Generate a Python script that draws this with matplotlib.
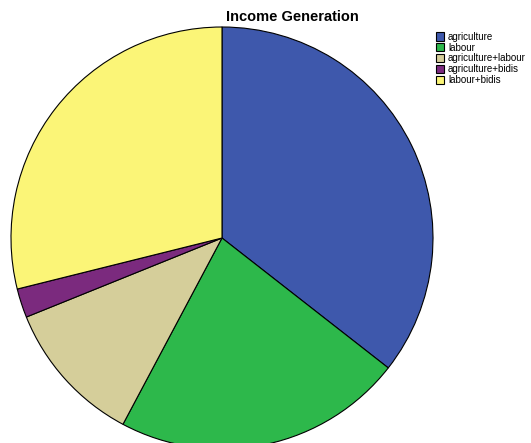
import matplotlib.pyplot as plt

plt.rcParams['font.family'] = ['Liberation Sans', 'DejaVu Sans']

# Income sources (counts)
categories = ['agriculture', 'labour', 'agriculture+labour', 'agriculture+bidis', 'labour+bidis']
counts = [16, 10, 5, 1, 13]
colors = ['#3E58AC', '#2DB84B', '#D5CE9A', '#7B2A7E', '#FBF577']

fig = plt.figure(figsize=(5.31, 4.43), dpi=100)
ax = fig.add_axes([0, 0, 1, 1])

wedges, _ = ax.pie(counts, colors=colors, startangle=90, counterclock=False,
                   radius=211, center=(0, 0),
                   wedgeprops=dict(edgecolor='black', linewidth=0.8))

# pixel-like data units, pie runs off the bottom edge
ax.set_xlim(-222, 309)
ax.set_ylim(-205, 238)
ax.set_aspect('auto')
ax.axis('off')

fig.text(292 / 531, 1 - 17 / 443, 'Income Generation', ha='center', va='center',
         fontsize=10.5, fontweight='bold')

leg = fig.legend(wedges, categories, loc='upper left',
                 bbox_to_anchor=(431 / 531, 1 - 27 / 443), frameon=False,
                 fontsize=7, handlelength=0.8, handleheight=0.9,
                 labelspacing=0.08, handletextpad=0.45, borderpad=0)

fig.savefig('out.png', dpi=100)
